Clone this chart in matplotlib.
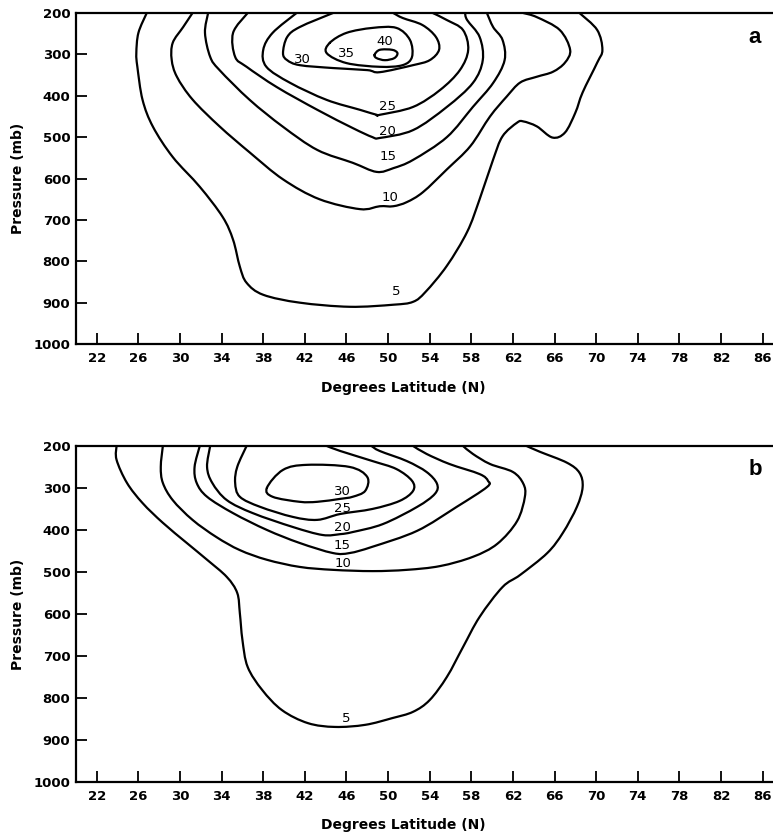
import matplotlib
matplotlib.use("Agg")
import matplotlib.pyplot as plt
from matplotlib.path import Path
from matplotlib.patches import PathPatch

# ---------------- axes / tick data ----------------
lat_ticks = list(range(22, 87, 4))
p_ticks = list(range(200, 1001, 100))

# ---------------- panel a contours (lat, pressure) ----------------
a5_lat = [26.8, 26.0, 25.8, 25.9, 26.4, 27.4, 29.3, 31.9, 34.1, 35.1, 35.75, 36.4, 38.0, 41.5, 46.3, 50.5,
          52.4, 53.6, 55.65, 57.6, 58.8, 60.1, 61.0, 62.4, 63.0, 64.3, 65.8, 67.0, 68.0, 68.7, 70.1, 70.6, 70.1, 68.4]
a5_p = [200, 248, 297, 330, 410, 475, 548, 620, 693, 748, 813, 852, 881, 900, 910, 905,
        898, 874, 811, 729, 650, 554, 498, 465, 462, 474, 501, 489, 441, 392, 320, 289, 241, 200]

a10_lat = [31.2, 30.3, 29.3, 29.2, 29.7, 31.2, 33.8, 36.7, 39.9, 43.4, 47.3, 49.2, 50.5, 51.8, 53.35,
           55.65, 57.9, 59.8, 61.4, 62.7, 64.3, 65.85, 67.0, 67.5, 66.5, 64.3, 63.0]
a10_p = [200, 234, 272, 313, 354, 409, 474, 537, 602, 650, 674, 667, 667, 657, 633,
         578, 522, 450, 402, 368, 354, 342, 320, 289, 241, 210, 200]

a15_lat = [32.7, 32.4, 32.9, 33.8, 36.7, 39.9, 43.2, 46.6, 48.9, 50.5, 52.4, 55.65, 58.15, 60.1, 61.2, 61.0, 60.1, 59.5]
a15_p = [200, 248, 306, 338, 410, 475, 531, 562, 584, 575, 555, 500, 427, 369, 314, 265, 234, 200]

a20_lat = [36.5, 35.1, 35.3, 36.4, 39.3, 43.2, 46.6, 48.5, 49.2, 52.4, 55.65, 58.15, 59.1, 58.8, 57.6, 57.4]
a20_p = [200, 248, 306, 330, 379, 434, 478, 500, 502, 483, 427, 369, 314, 258, 217, 200]

a25_lat = [41.2, 38.9, 38.0, 38.3, 40.6, 44.1, 47.3, 48.9, 49.2, 52.4, 55.0, 56.9, 57.7, 57.2, 55.65, 54.3]
a25_p = [200, 248, 289, 330, 369, 410, 434, 446, 446, 427, 386, 338, 289, 241, 217, 200]

a30_lat = [44.7, 41.5, 40.3, 39.9, 40.3, 41.5, 44.7, 48.0, 49.2, 52.4, 54.0, 54.9, 54.6, 53.3, 51.4, 50.5]
a30_p = [200, 234, 258, 297, 314, 326, 333, 338, 343, 326, 314, 289, 258, 229, 212, 200]

a35_lat = [44.4, 46.0, 48.5, 50.8, 52.1, 52.3, 51.4, 49.2, 46.0, 44.1, 44.4]
a35_p = [272, 248, 236, 236, 265, 306, 326, 330, 321, 297, 272]

a40_lat = [48.7, 49.2, 50.4, 50.9, 50.6, 49.7, 48.9, 48.7]
a40_p = [301, 289, 289, 297, 309, 314, 309, 301]

a_label_text = ["5", "10", "15", "20", "25", "30", "35", "40"]
a_label_lat = [50.8, 50.2, 50.0, 49.9, 49.9, 41.8, 46.0, 49.7]
a_label_p = [874, 645, 546, 486, 426, 313, 299, 270]

# ---------------- panel b contours (lat, pressure) ----------------
b5_lat = [23.9, 23.9, 24.9, 26.4, 28.35, 30.65, 32.6, 34.5, 35.5, 35.75, 36.0, 36.5, 37.9, 39.8, 42.3, 44.9,
          47.8, 50.4, 52.4, 54.0, 55.65, 57.2, 58.8, 61.0, 62.7, 65.3, 66.8, 68.15, 68.7, 68.4, 67.2, 64.6, 63.3]
b5_p = [200, 233, 288, 336, 383, 431, 471, 512, 550, 598, 662, 726, 781, 829, 860, 869,
        864, 848, 833, 805, 750, 679, 607, 536, 507, 455, 407, 345, 298, 264, 240, 214, 200]

b10_lat = [28.35, 28.15, 28.35, 29.3, 31.2, 33.5, 35.75, 38.35, 41.5, 44.7, 48.5, 51.8, 55.0, 58.15,
           60.5, 62.4, 63.15, 63.0, 62.0, 59.8, 58.15, 57.2]
b10_p = [200, 250, 288, 329, 376, 417, 448, 471, 488, 495, 498, 495, 486, 464,
         433, 379, 321, 290, 262, 243, 219, 200]

b15_lat = [31.9, 31.4, 31.6, 32.6, 35.1, 38.35, 41.5, 44.7, 46.3, 48.5, 52.8, 56.6, 59.5, 59.6, 58.8, 55.9, 53.7, 52.4]
b15_p = [200, 250, 288, 321, 360, 400, 431, 455, 455, 440, 402, 345, 298, 283, 267, 243, 219, 200]

b20_lat = [32.9, 32.6, 33.1, 34.5, 37.0, 40.85, 43.7, 45.4, 46.6, 49.5, 52.8, 54.5, 54.7, 53.7, 51.8, 49.2, 48.4]
b20_p = [200, 250, 288, 329, 360, 393, 412, 410, 405, 386, 345, 314, 290, 262, 236, 212, 200]

b25_lat = [36.4, 35.5, 35.3, 35.75, 37.7, 40.85, 43.2, 45.4, 48.5, 51.1, 52.4, 52.3, 50.8, 48.5, 45.4, 44.1]
b25_p = [200, 250, 288, 321, 345, 369, 376, 362, 350, 331, 307, 283, 255, 236, 212, 200]

b30_lat = [38.35, 39.9, 42.2, 46.3, 48.0, 47.8, 46.6, 45.4, 43.2, 41.5, 38.9, 38.35]
b30_p = [300, 257, 245, 250, 274, 307, 321, 326, 333, 333, 321, 300]

b_label_text = ["5", "10", "15", "20", "25", "30"]
b_label_lat = [46.0, 45.65, 45.6, 45.65, 45.6, 45.6]
b_label_p = [848, 481, 438, 393, 348, 309]


def smooth_path(xs, ys):
    """Curve through every given vertex, drawn as cubic Bezier segments
    (Catmull-Rom tangents) so the contour looks hand-drawn smooth."""
    pts = list(zip(xs, ys))
    closed = pts[0] == pts[-1]
    if closed:
        pts = pts[:-1]
    n = len(pts)

    def get(i):
        if closed:
            return pts[i % n]
        return pts[min(max(i, 0), n - 1)]

    verts = [pts[0]]
    codes = [Path.MOVETO]
    nseg = n if closed else n - 1
    for i in range(nseg):
        p0, p1, p2, p3 = get(i - 1), get(i), get(i + 1), get(i + 2)
        c1 = (p1[0] + (p2[0] - p0[0]) / 6.0, p1[1] + (p2[1] - p0[1]) / 6.0)
        c2 = (p2[0] - (p3[0] - p1[0]) / 6.0, p2[1] - (p3[1] - p1[1]) / 6.0)
        verts += [c1, c2, p2]
        codes += [Path.CURVE4] * 3
    return Path(verts, codes)


# ---------------- drawing ----------------
plt.rcParams['font.family'] = ['DejaVu Sans']

fig = plt.figure(figsize=(7.73, 8.34), dpi=100)
ax_a = fig.add_axes([0.0983, 0.5875, 0.9017, 0.3969])
ax_b = fig.add_axes([0.0983, 0.0624, 0.9017, 0.4029])

panels = [
    (ax_a,
     [(a5_lat, a5_p), (a10_lat, a10_p), (a15_lat, a15_p), (a20_lat, a20_p),
      (a25_lat, a25_p), (a30_lat, a30_p), (a35_lat, a35_p), (a40_lat, a40_p)],
     a_label_text, a_label_lat, a_label_p, "a", 85.2, 260, -0.133),
    (ax_b,
     [(b5_lat, b5_p), (b10_lat, b10_p), (b15_lat, b15_p), (b20_lat, b20_p),
      (b25_lat, b25_p), (b30_lat, b30_p)],
     b_label_text, b_label_lat, b_label_p, "b", 85.3, 255, -0.128),
]

for ax, curves, ltxt, llat, lp, letter, let_lat, let_p, xl_y in panels:
    ax.set_xlim(20, 87)
    ax.set_ylim(1000, 200)
    for lats, ps in curves:
        patch = PathPatch(smooth_path(lats, ps), facecolor='none', edgecolor='black',
                          lw=1.6, joinstyle='round', capstyle='round')
        ax.add_patch(patch)
    for t, x, y in zip(ltxt, llat, lp):
        ax.text(x, y, t, ha='center', va='center', fontsize=9.5, color='black')
    ax.text(let_lat, let_p, letter, ha='center', va='center', fontsize=16,
            fontweight='bold', family=['Liberation Sans', 'DejaVu Sans'])

    ax.set_xticks(lat_ticks)
    ax.set_xticklabels([str(v) for v in lat_ticks])
    ax.set_yticks(p_ticks)
    ax.set_yticklabels([str(v) for v in p_ticks])
    ax.tick_params(axis='both', direction='in', length=8, width=1.3, labelsize=9.5)
    ax.tick_params(axis='x', pad=6)
    ax.tick_params(axis='y', pad=4)
    for lab in ax.get_xticklabels() + ax.get_yticklabels():
        lab.set_fontweight('bold')
    ax.spines['right'].set_visible(False)
    for s in ['left', 'top', 'bottom']:
        ax.spines[s].set_linewidth(1.6)

    ax.set_xlabel('Degrees Latitude (N)', fontsize=10, fontweight='bold')
    ax.xaxis.set_label_coords(0.469, xl_y)
    ax.xaxis.label.set_va('center')
    ax.set_ylabel('Pressure (mb)', fontsize=10, fontweight='bold')
    ax.yaxis.set_label_coords(-0.083, 0.5)
    ax.yaxis.label.set_va('center')

fig.savefig('out.png', dpi=100)
